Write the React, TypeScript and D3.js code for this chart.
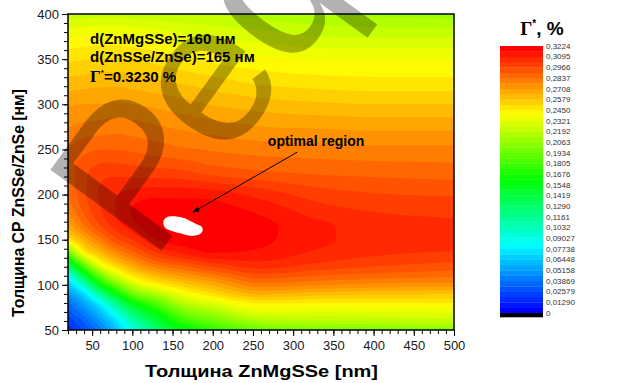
import React, { useEffect, useRef } from 'react';
import * as d3 from 'd3';

// thickness grid (nm)
const xNodes = [20, 40, 60, 80, 100, 130, 160, 200, 260, 330, 410, 500];
const yNodes = [50, 60, 70, 80, 90, 100, 110, 120, 135, 150, 165, 180, 200, 225, 250, 275, 300, 325, 350, 375, 400];

// Gamma* (%) at each node, one row per yNodes entry
const gammaRows = [
  [0.015, 0.027, 0.042, 0.064, 0.090, 0.125, 0.152, 0.173, 0.193, 0.198, 0.200, 0.203],
  [0.021, 0.034, 0.052, 0.074, 0.106, 0.143, 0.174, 0.194, 0.214, 0.218, 0.220, 0.222],
  [0.029, 0.044, 0.064, 0.094, 0.130, 0.163, 0.195, 0.212, 0.232, 0.231, 0.232, 0.233],
  [0.038, 0.056, 0.082, 0.120, 0.158, 0.188, 0.216, 0.231, 0.246, 0.245, 0.245, 0.245],
  [0.050, 0.073, 0.116, 0.158, 0.193, 0.217, 0.235, 0.250, 0.265, 0.261, 0.259, 0.258],
  [0.064, 0.102, 0.158, 0.194, 0.223, 0.242, 0.254, 0.265, 0.281, 0.278, 0.275, 0.274],
  [0.084, 0.143, 0.194, 0.226, 0.246, 0.262, 0.271, 0.281, 0.294, 0.290, 0.287, 0.285],
  [0.123, 0.184, 0.229, 0.250, 0.265, 0.280, 0.288, 0.297, 0.305, 0.300, 0.296, 0.293],
  [0.189, 0.241, 0.260, 0.276, 0.287, 0.302, 0.309, 0.3155, 0.314, 0.308, 0.304, 0.302],
  [0.246, 0.266, 0.281, 0.295, 0.303, 0.316, 0.320, 0.3205, 0.3175, 0.311, 0.307, 0.305],
  [0.266, 0.283, 0.296, 0.306, 0.313, 0.3215, 0.323, 0.3215, 0.318, 0.311, 0.307, 0.305],
  [0.277, 0.291, 0.302, 0.310, 0.3165, 0.3215, 0.321, 0.320, 0.315, 0.307, 0.303, 0.301],
  [0.284, 0.295, 0.304, 0.309, 0.312, 0.314, 0.314, 0.313, 0.307, 0.300, 0.297, 0.296],
  [0.287, 0.295, 0.300, 0.301, 0.300, 0.299, 0.298, 0.294, 0.291, 0.289, 0.288, 0.287],
  [0.284, 0.288, 0.290, 0.290, 0.289, 0.287, 0.285, 0.283, 0.281, 0.280, 0.279, 0.279],
  [0.277, 0.279, 0.280, 0.281, 0.280, 0.278, 0.276, 0.274, 0.271, 0.270, 0.269, 0.269],
  [0.270, 0.271, 0.271, 0.272, 0.271, 0.269, 0.267, 0.264, 0.261, 0.259, 0.258, 0.258],
  [0.260, 0.261, 0.262, 0.262, 0.261, 0.259, 0.257, 0.254, 0.250, 0.248, 0.247, 0.247],
  [0.250, 0.251, 0.252, 0.252, 0.251, 0.249, 0.246, 0.243, 0.240, 0.238, 0.238, 0.238],
  [0.238, 0.239, 0.240, 0.240, 0.239, 0.237, 0.234, 0.232, 0.229, 0.226, 0.225, 0.225],
  [0.222, 0.222, 0.223, 0.223, 0.222, 0.221, 0.220, 0.219, 0.216, 0.213, 0.211, 0.210],
];

// outline of the optimal region (nm, nm)
const optimalRegion = [
  [138.5, 169.6], [141.9, 174.4], [150.2, 175.9], [162.6, 174.4], [171.7, 171.1],
  [180.0, 167.1], [185.8, 164.9], [187.5, 160.4], [184.1, 156.3], [174.2, 154.1],
  [162.6, 156.3], [150.2, 159.3], [141.0, 163.0],
];
const arrowFrom = [305, 247];
const arrowTo = [175.5, 180.5];
const arrowLabelAt = [268.5, 254];

const levelMax = 0.3224;
const levelCount = 50;
const barLabels = [
  '0', '0,01290', '0,02579', '0,03869', '0,05158', '0,06448', '0,07738', '0,09027',
  '0,1032', '0,1161', '0,1290', '0,1419', '0,1548', '0,1676', '0,1805', '0,1934',
  '0,2063', '0,2192', '0,2321', '0,2450', '0,2579', '0,2708', '0,2837', '0,2966',
  '0,3095', '0,3224',
];
const xMajor = [50, 100, 150, 200, 250, 300, 350, 400, 450, 500];
const yMajor = [50, 100, 150, 200, 250, 300, 350, 400];
const infoLines = ['d(ZnMgSSe)=160 нм', 'd(ZnSSe/ZnSe)=165 нм'];
const gammaOpt = '=0.3230 %';

const W = 617;
const H = 383;
const plot = { left: 68, right: 454, top: 14, bottom: 330 };
const sans = '"Liberation Sans", Arial, sans-serif';
const serif = '"Liberation Serif", "Times New Roman", serif';

// monotone cubic (Fritsch-Carlson) through the nodes
function monotone(xs: number[], ys: number[]) {
  const n = xs.length;
  const d: number[] = [];
  const m: number[] = [];
  for (let i = 0; i < n - 1; i++) d[i] = (ys[i + 1] - ys[i]) / (xs[i + 1] - xs[i]);
  m[0] = d[0];
  m[n - 1] = d[n - 2];
  for (let i = 1; i < n - 1; i++) m[i] = d[i - 1] * d[i] <= 0 ? 0 : (d[i - 1] + d[i]) / 2;
  for (let i = 0; i < n - 1; i++) {
    if (d[i] === 0) { m[i] = 0; m[i + 1] = 0; continue; }
    const a = m[i] / d[i], b = m[i + 1] / d[i], s = a * a + b * b;
    if (s > 9) { const t = 3 / Math.sqrt(s); m[i] = t * a * d[i]; m[i + 1] = t * b * d[i]; }
  }
  return (x: number) => {
    let i = d3.bisectRight(xs, x) - 1;
    i = Math.max(0, Math.min(n - 2, i));
    const h = xs[i + 1] - xs[i];
    const t = Math.max(0, Math.min(1, (x - xs[i]) / h));
    const t2 = t * t, t3 = t2 * t;
    return (2 * t3 - 3 * t2 + 1) * ys[i] + (t3 - 2 * t2 + t) * h * m[i]
      + (-2 * t3 + 3 * t2) * ys[i + 1] + (t3 - t2) * h * m[i + 1];
  };
}

const rainbow = d3.scaleLinear<string>()
  .domain([0, 0.25, 0.5, 0.75, 1])
  .range(['#0000ff', '#00ffff', '#00ff00', '#ffff00', '#ff0000']);
const bandColor = (k: number) => rainbow(k / (levelCount - 1));

export default function App() {
  const svgRef = useRef<SVGSVGElement>(null);

  useEffect(() => {
    const svg = d3.select(svgRef.current);
    svg.selectAll('*').remove();

    const x = d3.scaleLinear().domain([20, 500]).range([plot.left, plot.right]);
    const y = d3.scaleLinear().domain([50, 400]).range([plot.bottom, plot.top]);
    const pw = plot.right - plot.left;
    const ph = plot.bottom - plot.top;

    // resample the grid to one value per pixel
    const fineX = d3.range(pw).map(i => x.invert(plot.left + i + 0.5));
    const fineY = d3.range(ph).map(j => y.invert(plot.top + j + 0.5));
    const rowsFine = gammaRows.map(r => fineX.map(monotone(xNodes, r)));
    const values = new Float64Array(pw * ph);
    for (let i = 0; i < pw; i++) {
      const f = monotone(yNodes, rowsFine.map(r => r[i]));
      for (let j = 0; j < ph; j++) values[j * pw + i] = f(fineY[j]);
    }
    const step = levelMax / levelCount;
    const thresholds = d3.range(levelCount).map(k => k * step);
    const bands = d3.contours().size([pw, ph]).thresholds(thresholds)(Array.from(values));

    svg.append('clipPath').attr('id', 'plot-clip')
      .append('rect')
      .attr('x', plot.left).attr('y', plot.top).attr('width', pw).attr('height', ph);

    const map = svg.append('g').attr('clip-path', 'url(#plot-clip)');
    map.append('g')
      .attr('transform', `translate(${plot.left},${plot.top})`)
      .selectAll('path')
      .data(bands)
      .join('path')
      .attr('d', d3.geoPath())
      .attr('fill', (d, i) => bandColor(i));

    // optimal region
    map.append('path')
      .attr('d', d3.line().curve(d3.curveCardinalClosed)(optimalRegion.map(p => [x(p[0]), y(p[1])]) as [number, number][]))
      .attr('fill', '#fff');

    // frame
    svg.append('rect')
      .attr('x', plot.left).attr('y', plot.top).attr('width', pw).attr('height', ph)
      .attr('fill', 'none').attr('stroke', '#000').attr('stroke-width', 1.5);

    // axes
    const styleAxis = (g: any) => {
      g.select('.domain').remove();
      g.selectAll('line').attr('stroke', '#000').attr('stroke-width', 1);
      g.selectAll('text').attr('font-family', sans).attr('font-size', 13).attr('fill', '#1a1a1a');
    };
    svg.append('g')
      .attr('transform', `translate(0,${plot.bottom})`)
      .call(d3.axisBottom(x).tickValues(d3.range(20, 501, 10)).tickSize(4).tickFormat(() => ''))
      .call(styleAxis);
    svg.append('g')
      .attr('transform', `translate(0,${plot.bottom})`)
      .call(d3.axisBottom(x).tickValues(xMajor).tickSize(6).tickPadding(5).tickFormat(d3.format('d')))
      .call(styleAxis);
    svg.append('g')
      .attr('transform', `translate(${plot.left},0)`)
      .call(d3.axisLeft(y).tickValues(d3.range(50, 401, 10)).tickSize(4).tickFormat(() => ''))
      .call(styleAxis);
    svg.append('g')
      .attr('transform', `translate(${plot.left},0)`)
      .call(d3.axisLeft(y).tickValues(yMajor).tickSize(6).tickPadding(3).tickFormat(d3.format('d')))
      .call(styleAxis);

    // axis titles
    svg.append('text')
      .attr('x', 261.5).attr('y', 377)
      .attr('text-anchor', 'middle')
      .attr('font-family', sans).attr('font-size', 17).attr('font-weight', 'bold')
      .attr('textLength', 233).attr('lengthAdjust', 'spacingAndGlyphs')
      .text('Толщина ZnMgSSe [nm]');
    svg.append('text')
      .attr('transform', 'translate(24,203) rotate(-90)')
      .attr('text-anchor', 'middle')
      .attr('font-family', sans).attr('font-size', 17).attr('font-weight', 'bold')
      .attr('textLength', 228).attr('lengthAdjust', 'spacingAndGlyphs')
      .text('Толщина СР ZnSSe/ZnSe [нм]');

    // info block
    infoLines.forEach((t, i) => {
      svg.append('text')
        .attr('x', 90).attr('y', 43.5 + i * 18.5)
        .attr('font-family', sans).attr('font-size', 15).attr('font-weight', 'bold')
        .text(t);
    });
    const g3 = svg.append('text').attr('x', 90).attr('y', 82)
      .attr('font-size', 15).attr('font-weight', 'bold');
    g3.append('tspan').attr('font-family', serif).attr('font-size', 17).text('Γ');
    g3.append('tspan').attr('font-family', sans).attr('font-size', 8).attr('dy', -7).text('*');
    g3.append('tspan').attr('font-family', sans).attr('dy', 7).text(gammaOpt);

    // arrow + label
    svg.append('defs').append('marker')
      .attr('id', 'arrowhead').attr('viewBox', '0 0 10 10')
      .attr('refX', 9).attr('refY', 5).attr('markerWidth', 7).attr('markerHeight', 7)
      .attr('orient', 'auto')
      .append('path').attr('d', 'M0,1.5L10,5L0,8.5Z').attr('fill', '#000');
    svg.append('line')
      .attr('x1', x(arrowFrom[0])).attr('y1', y(arrowFrom[1]))
      .attr('x2', x(arrowTo[0])).attr('y2', y(arrowTo[1]))
      .attr('stroke', '#000').attr('stroke-width', 1)
      .attr('marker-end', 'url(#arrowhead)');
    svg.append('text')
      .attr('x', x(arrowLabelAt[0])).attr('y', y(arrowLabelAt[1]))
      .attr('font-family', sans).attr('font-size', 14).attr('font-weight', 'bold')
      .text('optimal region');

    // colour bar
    const cb = d3.scaleLinear().domain([0, levelMax]).range([313, 46]);
    svg.append('g')
      .selectAll('rect')
      .data(thresholds)
      .join('rect')
      .attr('x', 500).attr('width', 43)
      .attr('y', d => cb(d + step))
      .attr('height', d => cb(d) - cb(d + step) + 0.3)
      .attr('fill', (d, i) => bandColor(i));
    svg.append('rect').attr('x', 500).attr('width', 43).attr('y', cb(0)).attr('height', 4.3).attr('fill', '#000');
    svg.append('g')
      .selectAll('text')
      .data(barLabels)
      .join('text')
      .attr('x', 546)
      .attr('y', (d, i) => cb(i * levelMax / (barLabels.length - 1)))
      .attr('dy', '0.35em')
      .attr('font-family', sans).attr('font-size', 8).attr('fill', '#333')
      .text(d => d);
    const cbTitle = svg.append('text').attr('x', 542).attr('y', 35)
      .attr('text-anchor', 'middle').attr('font-weight', 'bold').attr('font-size', 19);
    cbTitle.append('tspan').attr('font-family', serif).text('Γ');
    cbTitle.append('tspan').attr('font-family', sans).attr('font-size', 10).attr('dy', -8).text('*');
    cbTitle.append('tspan').attr('font-family', sans).attr('dy', 8).text(', %');

    // watermark
    svg.append('text')
      .attr('transform', 'translate(152,264) rotate(-54)')
      .attr('font-family', sans).attr('font-size', 200)
      .attr('fill', '#000').attr('fill-opacity', 0.3)
      .text('Реферат');
  }, []);

  return (
    <svg ref={svgRef} width={W} height={H} style={{ position: 'absolute', left: 0, top: 0, background: '#fff' }} />
  );
}
